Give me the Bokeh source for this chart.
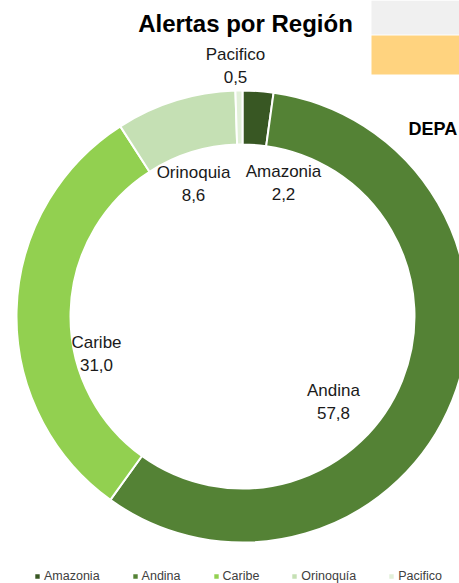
import math
from bokeh.plotting import figure
from bokeh.models import Range1d, ColumnDataSource, Legend, LegendItem, Label, BoxAnnotation
from bokeh.core.properties import value
from bokeh.embed import file_html
from bokeh.resources import INLINE

# ---- data ----
regions = ["Amazonia", "Andina", "Caribe", "Orinoquia", "Pacifico"]
legend_labels = ["Amazonia", "Andina", "Caribe", "Orinoquía", "Pacifico"]
shares = [2.2, 57.8, 31.0, 8.6, 0.5]
value_labels = ["2,2", "57,8", "31,0", "8,6", "0,5"]
colors = ["#385723", "#548235", "#92D050", "#C5E0B4", "#E2F0D9"]
title_text = "Alertas por Región"

# ---- layout (pixels) ----
W, H = 459, 583
CX, CY = 242, H - 316
R_OUT, R_IN = 226, 172
# manually placed data-label anchors (px from top-left), like the dragged Excel labels
label_px = [(283, 171), (333, 390), (96, 342), (193, 172), (235, 54)]
LINE_GAP = 22

FONT = "'Liberation Sans', Arial, sans-serif"

total = sum(shares)
starts, ends = [], []
acc = 0.0
for s in shares:
    starts.append(math.pi / 2 - 2 * math.pi * acc / total)
    acc += s
    ends.append(math.pi / 2 - 2 * math.pi * acc / total)

src = ColumnDataSource(dict(region=regions, lab=legend_labels, share=shares,
                            start=starts, end=ends, color=colors))

p = figure(width=W, height=H, output_backend="svg", toolbar_location=None,
           x_range=Range1d(0, W), y_range=Range1d(0, H),
           min_border=0, min_border_left=0, min_border_right=0,
           min_border_top=0, min_border_bottom=0)
p.axis.visible = False
p.grid.visible = False
p.outline_line_color = None
p.background_fill_color = "white"
p.border_fill_color = "white"

# neighbouring spreadsheet artefacts visible in the screenshot
p.add_layout(BoxAnnotation(left=371, right=W, bottom=H - 34, top=H, fill_color="#F0F0F0",
                           fill_alpha=1, line_color=None, level="underlay"))
p.add_layout(BoxAnnotation(left=371, right=W, bottom=H - 74, top=H - 35, fill_color="#FFD37F",
                           fill_alpha=1, line_color=None, level="underlay"))
p.add_layout(Label(x=408, y=H - 128, text="DEPA", text_font=FONT, text_font_size="18px",
                   text_font_style="bold", text_color="black", text_baseline="middle"))

r = p.annular_wedge(x=CX, y=CY, inner_radius=R_IN, outer_radius=R_OUT,
                    start_angle="start", end_angle="end", direction="clock",
                    fill_color="color", line_color="white", line_width=2, source=src)

# data labels
lx = [a for a, b in label_px]
ly_name = [H - b for a, b in label_px]
ly_val = [H - b - LINE_GAP for a, b in label_px]
lab_src = ColumnDataSource(dict(x=lx, yn=ly_name, yv=ly_val, name=regions, val=value_labels))
p.text(x="x", y="yn", text="name", source=lab_src, text_align="center", text_baseline="middle",
       text_font=value(FONT), text_font_size="17px", text_color="#1a1a1a")
p.text(x="x", y="yv", text="val", source=lab_src, text_align="center", text_baseline="middle",
       text_font=value(FONT), text_font_size="17px", text_color="#1a1a1a")

# title
p.add_layout(Label(x=245, y=H - 23, text=title_text, text_align="center", text_baseline="middle",
                   text_font=FONT, text_font_size="24px", text_font_style="bold",
                   text_color="black"))

# legend
items = [LegendItem(label=legend_labels[i], renderers=[r], index=i) for i in range(len(regions))]
legend = Legend(items=items, orientation="horizontal", location=(33, 0),
                glyph_width=8, glyph_height=8, label_standoff=3, spacing=31,
                label_text_font=FONT, label_text_font_size="12.5px", label_text_color="#404040",
                background_fill_alpha=0, border_line_color=None, padding=2, margin=0,
                label_height=12)
p.add_layout(legend)

open("out.html", "w").write(file_html(p, INLINE))
